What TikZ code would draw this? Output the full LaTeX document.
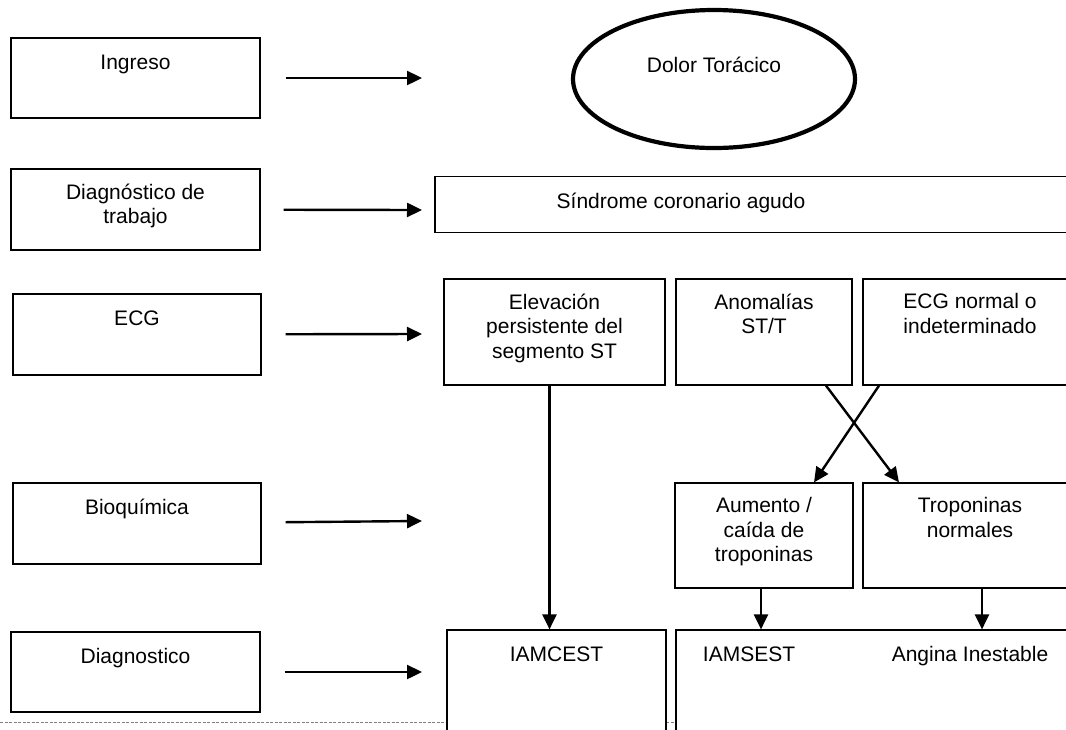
\documentclass[tikz,border=0pt]{standalone}
\usepackage{fontspec}
\setmainfont{Liberation Sans}
\usetikzlibrary{arrows.meta,shapes.geometric}
\tikzset{
    caja/.style={rectangle, draw, line width=1.2pt, fill=white, inner sep=0pt},
    txt/.style={anchor=north, inner sep=15pt, align=center, font=\fontsize{21}{24.5}\selectfont, execute at begin node=\strut},
    flecha/.style={line width=2.4pt, -{Triangle[length=15pt, width=14pt]}},
    corte/.style={gray, line width=0.8pt, dash pattern=on 3pt off 1.5pt}
}

\begin{document}
\begin{tikzpicture}[x=1pt, y=-1pt]
    \useasboundingbox (0,0) rectangle (1066,729);
    \clip (0,0) rectangle (1066,729);

    \coordinate (pie0) at (0, 722);
    \coordinate (pie1) at (1066, 722);
    \draw[corte] (pie0) -- (pie1);

    % etapas
    \node (ingreso) [caja, minimum width=249, minimum height=80, label={[txt]north:Ingreso}] at (135.5, 78) {};
    \node (trabajo) [caja, minimum width=249, minimum height=81, label={[txt]north:Diagnóstico de\\trabajo}] at (135.5, 209.5) {};
    \node (ecg) [caja, minimum width=248, minimum height=81, label={[txt]north:ECG}] at (137, 334.5) {};
    \node (bioq) [caja, minimum width=248, minimum height=81, label={[txt]north:Bioquímica}] at (137, 523.5) {};
    \node (diag) [caja, minimum width=249, minimum height=80, label={[txt]north:Diagnostico}] at (135.5, 672) {};

    \coordinate (f1) at (422, 78);
    \coordinate (f2) at (422, 210);
    \coordinate (f3) at (422, 334);
    \coordinate (f4) at (422, 521);
    \coordinate (f5) at (422, 672);

    % cuadro clinico
    \node (dolor) [ellipse, draw, line width=4.2pt, fill=white, minimum width=282, minimum height=138, label={[txt, yshift=-32pt]north:Dolor Torácico}] at (714, 79) {};
    \node (sca) [caja, minimum width=642, minimum height=56, label={[txt, xshift=-75pt]north:Síndrome coronario agudo}] at (756, 204.5) {};

    \node (elev) [caja, minimum width=221, minimum height=106, label={[txt]north:Elevación\\persistente del\\segmento ST}] at (554.5, 332) {};
    \node (anom) [caja, minimum width=176, minimum height=106, label={[txt]north:Anomalías\\ST/T}] at (764, 332) {};
    \node (ecgn) [caja, minimum width=214, minimum height=106, label={[txt]north:ECG normal o\\indeterminado}] at (970, 332) {};

    \node (aum) [caja, minimum width=178, minimum height=105, label={[txt]north:Aumento /\\caída de\\troponinas}] at (764, 535.5) {};
    \node (tropn) [caja, minimum width=214, minimum height=105, label={[txt]north:Troponinas\\normales}] at (970, 535.5) {};

    \node (iamcest) [caja, minimum width=219, minimum height=115, label={[txt]north:IAMCEST}] at (556.5, 687.5) {};
    \node (iamsest) [caja, minimum width=401, minimum height=115, label={[txt, xshift=-127.5pt]north:IAMSEST}, label={[txt, xshift=93.5pt]north:Angina Inestable}] at (876.5, 687.5) {};

    % flechas
    \draw[flecha, shorten <=25pt] (ingreso) -- (f1);
    \draw[flecha, shorten <=23pt] (trabajo) -- (f2);
    \draw[flecha, shorten <=24pt] (ecg) -- (f3);
    \draw[flecha, shorten <=24pt] (bioq) -- (f4);
    \draw[flecha, shorten <=24pt] (diag) -- (f5);

    \draw[flecha] ([xshift=-5pt]elev.south) -- ([xshift=-5pt]elev.south |- iamcest.north);
    \draw[flecha] ([xshift=62pt]anom.south) -- ([xshift=-71pt]tropn.north);
    \draw[flecha] ([xshift=-91pt]ecgn.south) -- ([xshift=50pt]aum.north);
    \draw[flecha] ([xshift=-3pt]aum.south) -- ([xshift=-3pt]aum.south |- iamsest.north);
    \draw[flecha] ([xshift=12pt]tropn.south) -- ([xshift=12pt]tropn.south |- iamsest.north);
\end{tikzpicture}
\end{document}
